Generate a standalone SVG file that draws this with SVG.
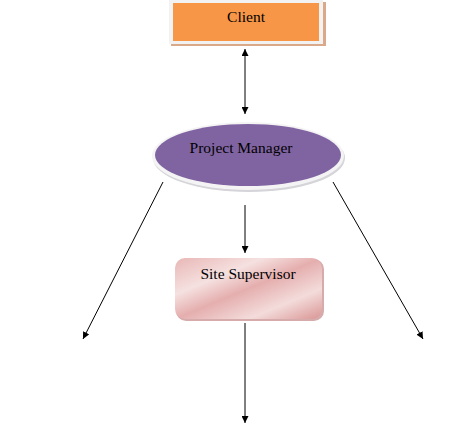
<svg xmlns="http://www.w3.org/2000/svg" width="469" height="442" viewBox="0 0 469 442">
<style>
.lbl{font-family:"Liberation Serif","Times New Roman",serif;font-size:15.5px;fill:#000;text-anchor:middle}
.conn{stroke:#000;stroke-width:1;fill:none}
</style>
<defs>
<marker id="ah" viewBox="0 0 10 10" refX="10" refY="5" markerWidth="7" markerHeight="7" orient="auto-start-reverse" markerUnits="userSpaceOnUse">
<path d="M0,0 L10,5 L0,10 z" fill="#000"/>
</marker>
<linearGradient id="pink" x1="0" y1="0" x2="1" y2="1">
<stop offset="0" stop-color="#e8b7b6"/>
<stop offset="0.3" stop-color="#f5e1e0"/>
<stop offset="0.5" stop-color="#e5aeae"/>
<stop offset="0.75" stop-color="#f3dcdb"/>
<stop offset="1" stop-color="#d99594"/>
</linearGradient>
</defs>
<rect width="469" height="442" fill="#fff"/>
<g id="client">
<rect x="171" y="2" width="155" height="44" fill="#d9a98a"/>
<rect x="169" y="0" width="154" height="44" fill="#f2f2f2"/>
<rect x="173" y="3" width="146" height="38" fill="#f79646"/>
<text class="lbl" x="246" y="22">Client</text>
</g>
<g id="project-manager">
<ellipse cx="249" cy="158" rx="96" ry="34" fill="#b8b8c0" opacity="0.6"/>
<ellipse cx="248" cy="156" rx="96" ry="34" fill="#f4f4f4"/>
<ellipse cx="248" cy="155" rx="93" ry="31" fill="#8064a2"/>
<text class="lbl" x="241" y="153">Project Manager</text>
</g>
<g id="site-supervisor">
<rect x="176" y="259" width="148" height="62" rx="10" fill="#c48888" opacity="0.7"/>
<rect x="175" y="258" width="147" height="61" rx="10" fill="url(#pink)"/>
<text class="lbl" x="248" y="279">Site Supervisor</text>
</g>
<g id="connectors">
<line class="conn" x1="245" y1="49" x2="245" y2="114" marker-start="url(#ah)" marker-end="url(#ah)"/>
<line class="conn" x1="245" y1="205" x2="245" y2="253" marker-end="url(#ah)"/>
<line class="conn" x1="163" y1="182" x2="83" y2="339" marker-end="url(#ah)"/>
<line class="conn" x1="333" y1="182" x2="423" y2="339" marker-end="url(#ah)"/>
<line class="conn" x1="245" y1="323" x2="245" y2="423" marker-end="url(#ah)"/>
</g>
</svg>
